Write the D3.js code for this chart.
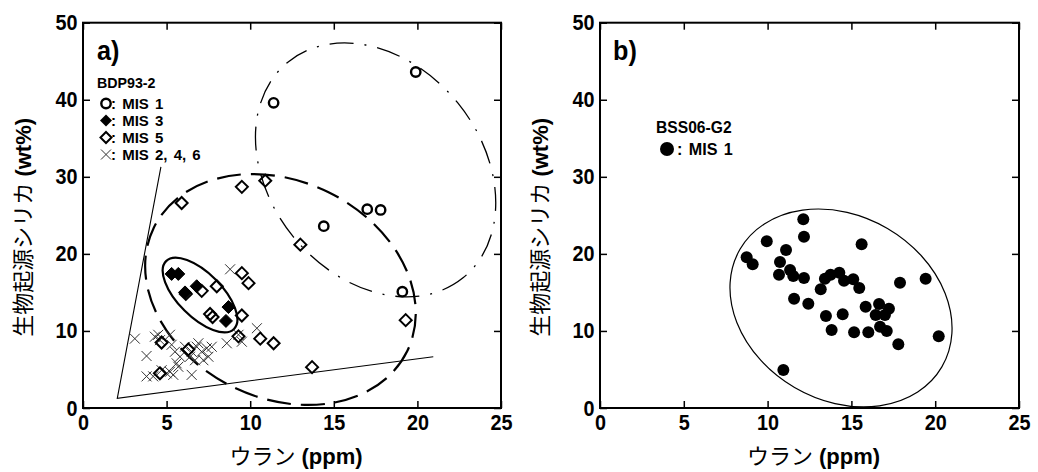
<!DOCTYPE html>
<html>
<head>
<meta charset="utf-8">
<script src="https://cdn.jsdelivr.net/npm/d3@7"></script>
<style>
  body { margin: 0; background: #fff; }
  text { font-family: "Liberation Sans", Arial, sans-serif; font-weight: bold; fill: #000; }
  .jp { font-family: "Noto Sans CJK JP", sans-serif; font-weight: normal; }
</style>
</head>
<body>
<svg width="1038" height="472"></svg>
<script>
const xTicks = [0, 5, 10, 15, 20, 25]
const yTicks = [0, 10, 20, 30, 40, 50]

// BDP93-2 (panel a)
const mis1 = [[11.4, 39.6], [19.9, 43.6], [14.4, 23.6], [17.0, 25.8], [17.8, 25.7], [19.1, 15.1]]
const mis3 = [[5.3, 17.4], [5.7, 17.4], [6.1, 15.0], [6.8, 15.8], [8.7, 13.1], [8.55, 11.3]]
const mis5 = [
  [5.9, 26.6], [9.5, 28.7], [10.9, 29.5], [13.0, 21.2], [6.15, 14.8], [7.1, 15.2],
  [8.0, 15.8], [7.6, 12.2], [7.75, 11.8], [9.5, 17.5], [9.9, 16.2], [9.5, 12.0],
  [9.3, 9.3], [10.6, 9.0], [11.4, 8.4], [19.3, 11.4], [13.7, 5.3], [6.3, 7.6],
  [4.7, 8.5], [4.6, 4.5]
]
const mis246 = [
  [3.1, 9.0], [3.8, 6.75], [3.8, 4.1], [4.3, 9.25], [4.5, 9.5], [4.6, 8.8],
  [5.2, 9.5], [5.3, 8.2], [5.5, 7.3], [5.8, 6.65], [5.6, 5.8], [5.2, 4.7],
  [5.0, 4.5], [5.4, 4.3], [5.7, 5.35], [6.1, 7.95], [6.5, 7.3], [6.4, 6.65],
  [6.8, 7.95], [6.9, 8.4], [7.1, 7.3], [6.7, 6.2], [6.5, 4.3], [7.4, 7.75],
  [7.5, 6.65], [7.2, 6.2], [7.7, 7.95], [8.6, 8.4], [8.8, 18.0], [10.4, 10.35],
  [9.5, 8.6], [9.3, 9.5], [4.2, 4.1], [4.7, 4.9]
]
// BSS06-G2 (panel b)
const bss = [
  [12.13, 24.49], [12.17, 22.23], [9.95, 21.63], [11.10, 20.50], [8.75, 19.56], [9.11, 18.65],
  [10.74, 18.95], [10.68, 17.30], [11.34, 17.91], [11.53, 17.13], [12.17, 16.87], [15.61, 21.24],
  [13.42, 16.78], [13.76, 17.30], [14.28, 17.56], [14.56, 16.52], [15.11, 16.70], [15.47, 15.57],
  [13.17, 15.40], [17.90, 16.26], [19.43, 16.78], [11.58, 14.18], [12.43, 13.53], [13.48, 11.94],
  [14.48, 12.16], [15.85, 13.15], [16.65, 13.50], [17.24, 12.89], [17.00, 12.07], [16.45, 12.07],
  [16.71, 10.55], [13.82, 10.12], [15.16, 9.82], [16.01, 9.82], [17.11, 9.99], [17.80, 8.27],
  [20.21, 9.30], [10.94, 4.93]
]

// grouping ellipses: centre and semi axes in data units, rotation in degrees
const ellipsesA = [
  { cx: 17.5, cy: 30.9, rx: 8.31, ry: 13.76, angle: 51, dash: '24,11,2,11', w: 1.3 },
  { cx: 11.81, cy: 15.38, rx: 8.43, ry: 14.08, angle: 26, dash: '24,10', w: 2.2 },
  { cx: 7.0, cy: 14.66, rx: 2.87, ry: 2.85, angle: 45, dash: null, w: 2.2 }
]
const ellipsesB = [
  { cx: 14.38, cy: 12.98, rx: 6.97, ry: 11.95, angle: 30.3, dash: null, w: 1.2 }
]
const wedge = [[4.66, 31.3], [2.05, 1.26], [20.95, 6.66]]

const legendA = [': MIS 1', ': MIS 3', ': MIS 5', ': MIS 2, 4, 6']

const svg = d3.select('svg')
svg.append('rect').attr('width', 1038).attr('height', 472).attr('fill', '#fff')

const diamondPath = (r) => `M0,${-r}L${r},0L0,${r}L${-r},0Z`
const crossPath = (r) => `M${-r},${-r}L${r},${r}M${-r},${r}L${r},${-r}`

// narrow bold label (no condensed face installed, so squeeze it)
const label = (g, x, y, size, txt, k = 0.88) =>
  g.append('text')
    .attr('transform', `translate(${x},${y}) scale(${k},1)`)
    .attr('font-size', size).attr('word-spacing', 2).text(txt)

const makePanel = (left, right, top, bottom) => {
  const x = d3.scaleLinear().domain([0, 25]).range([left, right])
  const y = d3.scaleLinear().domain([0, 50]).range([bottom, top])
  const g = svg.append('g')

  const styleAxis = (sel) => {
    sel.select('.domain').remove()
    sel.selectAll('.tick line').attr('stroke', '#000').attr('stroke-width', 1.5)
    sel.selectAll('.tick text').attr('font-size', 22).attr('fill', '#000')
      .attr('transform', 'scale(0.9,1)')
  }

  g.append('g').attr('transform', `translate(0,${bottom})`)
    .call(d3.axisBottom(x).tickValues(xTicks).tickSizeInner(-7).tickSizeOuter(0).tickPadding(6))
    .call(styleAxis)
  g.append('g').attr('transform', `translate(${left},0)`)
    .call(d3.axisLeft(y).tickValues(yTicks).tickSizeInner(-7).tickSizeOuter(0).tickPadding(6))
    .call(styleAxis)
  g.append('g').attr('transform', `translate(0,${top})`)
    .call(d3.axisTop(x).tickValues(xTicks).tickSizeInner(-7).tickSizeOuter(0).tickFormat(''))
    .call(styleAxis)
  g.append('g').attr('transform', `translate(${right},0)`)
    .call(d3.axisRight(y).tickValues(yTicks).tickSizeInner(-7).tickSizeOuter(0).tickFormat(''))
    .call(styleAxis)

  g.selectAll('.tick text').attr('font-family', null)

  g.append('rect')
    .attr('x', left).attr('y', top)
    .attr('width', right - left).attr('height', bottom - top)
    .attr('fill', 'none').attr('stroke', '#000').attr('stroke-width', 2)

  // axis titles
  const yt = g.append('text')
    .attr('transform', `translate(${left - 52},${(top + bottom) / 2 + 12}) rotate(-90)`)
    .attr('text-anchor', 'middle').attr('font-size', 22)
  yt.append('tspan').attr('class', 'jp').text('生物起源シリカ')
  yt.append('tspan').text(' (wt%)')

  const xt = g.append('text')
    .attr('x', (left + right) / 2 + 4).attr('y', 464)
    .attr('text-anchor', 'middle').attr('font-size', 22)
  xt.append('tspan').attr('class', 'jp').text('ウラン')
  xt.append('tspan').text(' (ppm)')

  return { g, x, y }
}

const drawEllipses = (p, list) => {
  p.g.selectAll(null).data(list).join('ellipse')
    .attr('cx', (d) => p.x(d.cx)).attr('cy', (d) => p.y(d.cy))
    .attr('rx', (d) => p.x(d.cx + d.rx) - p.x(d.cx))
    .attr('ry', (d) => p.y(d.cy) - p.y(d.cy + d.ry))
    .attr('transform', (d) => `rotate(${d.angle},${p.x(d.cx)},${p.y(d.cy)})`)
    .attr('fill', 'none').attr('stroke', '#000')
    .attr('stroke-width', (d) => d.w)
    .attr('stroke-dasharray', (d) => d.dash)
}

// panel a
const pa = makePanel(83, 501, 22.7, 408)
drawEllipses(pa, ellipsesA)
pa.g.append('path')
  .attr('d', d3.line().x((d) => pa.x(d[0])).y((d) => pa.y(d[1]))(wedge))
  .attr('fill', 'none').attr('stroke', '#000').attr('stroke-width', 1.1)

pa.g.selectAll(null).data(mis246).join('path')
  .attr('transform', (d) => `translate(${pa.x(d[0])},${pa.y(d[1])})`)
  .attr('d', crossPath(5)).attr('stroke', '#333').attr('stroke-width', 1).attr('fill', 'none')
pa.g.selectAll(null).data(mis5).join('path')
  .attr('transform', (d) => `translate(${pa.x(d[0])},${pa.y(d[1])})`)
  .attr('d', diamondPath(6)).attr('stroke', '#000').attr('stroke-width', 2).attr('fill', 'none')
pa.g.selectAll(null).data(mis3).join('path')
  .attr('transform', (d) => `translate(${pa.x(d[0])},${pa.y(d[1])})`)
  .attr('d', diamondPath(6.5)).attr('stroke', '#000').attr('stroke-width', 1).attr('fill', '#000')
pa.g.selectAll(null).data(mis1).join('circle')
  .attr('cx', (d) => pa.x(d[0])).attr('cy', (d) => pa.y(d[1])).attr('r', 4.7)
  .attr('fill', 'none').attr('stroke', '#000').attr('stroke-width', 2.4)

label(pa.g, 97, 60, 28, 'a)', 0.9)
label(pa.g, 97, 88, 15, 'BDP93-2', 0.95)
legendA.forEach((txt, i) => {
  const base = 109 + i * 17
  const cy = base - 5.5
  if (i === 0) pa.g.append('circle').attr('cx', 106).attr('cy', cy).attr('r', 4.7).attr('fill', 'none').attr('stroke', '#000').attr('stroke-width', 2.4)
  if (i === 1) pa.g.append('path').attr('transform', `translate(106,${cy})`).attr('d', diamondPath(6)).attr('fill', '#000')
  if (i === 2) pa.g.append('path').attr('transform', `translate(106,${cy})`).attr('d', diamondPath(5.5)).attr('fill', 'none').attr('stroke', '#000').attr('stroke-width', 2)
  if (i === 3) pa.g.append('path').attr('transform', `translate(106,${cy})`).attr('d', crossPath(5)).attr('stroke', '#333').attr('stroke-width', 1)
  label(pa.g, 111, base, 15, txt, 1)
})

// panel b
const pb = makePanel(600, 1019, 22.7, 408)
drawEllipses(pb, ellipsesB)
pb.g.selectAll(null).data(bss).join('circle')
  .attr('cx', (d) => pb.x(d[0])).attr('cy', (d) => pb.y(d[1])).attr('r', 6)
  .attr('fill', '#000')
label(pb.g, 613, 60, 28, 'b)', 0.9)
label(pb.g, 656, 133, 17, 'BSS06-G2', 0.92)
pb.g.append('circle').attr('cx', 667).attr('cy', 149).attr('r', 7).attr('fill', '#000')
label(pb.g, 677, 155, 17, ': MIS 1', 0.95)
</script>
</body>
</html>
